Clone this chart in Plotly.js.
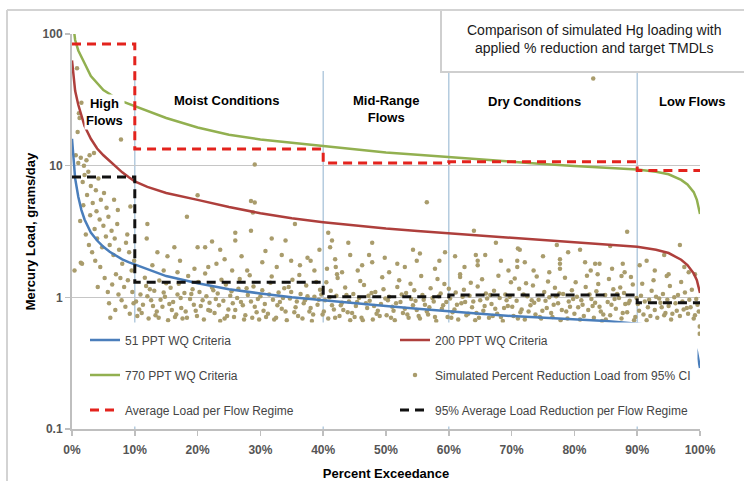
<!DOCTYPE html>
<html><head><meta charset="utf-8">
<script src="https://cdn.plot.ly/plotly-3.0.1.min.js"></script>
<style>html,body{margin:0;padding:0;background:#fff}#chart{width:744px;height:481px}</style>
</head><body><div id="chart"></div>
<script>
// ---------- data ----------
const curvePct = [0, 0.5, 1, 1.5, 2, 3, 4, 5, 6, 7, 8, 9, 10, 12, 15, 20, 25, 30, 35, 40, 45, 50, 55, 60, 65, 70, 75, 80, 85, 90, 93, 95, 97, 98, 99, 99.5, 100];
const load51 = [16, 8, 5.8, 4.6, 3.9, 3.1, 2.7, 2.42, 2.22, 2.06, 1.94, 1.85, 1.78, 1.63, 1.45, 1.28, 1.15, 1.07, 1.0, 0.95, 0.9, 0.86, 0.82, 0.78, 0.75, 0.72, 0.7, 0.68, 0.66, 0.63, 0.61, 0.58, 0.53, 0.5, 0.45, 0.39, 0.29];
const load200 = [63, 37, 29, 23.5, 20, 16, 13.5, 12, 10.8, 9.8, 8.9, 8.2, 7.6, 6.9, 6.2, 5.5, 4.85, 4.35, 3.98, 3.72, 3.5, 3.33, 3.19, 3.07, 2.95, 2.83, 2.72, 2.62, 2.52, 2.42, 2.3, 2.17, 1.93, 1.76, 1.52, 1.35, 1.08];
const load770 = [140, 90, 75, 66, 60, 48, 42, 37.5, 35, 32.5, 30.8, 29.5, 28.5, 26, 23, 19.5, 17.2, 15.8, 14.9, 14.1, 13.3, 12.6, 12.1, 11.6, 11.1, 10.7, 10.3, 9.95, 9.65, 9.35, 9.0, 8.6, 7.8, 7.2, 6.3, 5.5, 4.3];

const regimePct = [0, 10, 10, 40, 40, 60, 60, 90, 90, 100];
const avgLoad = [84, 84, 13.4, 13.4, 10.5, 10.5, 10.7, 10.7, 9.2, 9.2];
const avgReducedLoad = [8.2, 8.2, 1.3, 1.3, 1.01, 1.01, 1.04, 1.04, 0.91, 0.91];
const regimeBounds = [10, 40, 60, 90];
const regimeNames = ['High<br>Flows', 'Moist Conditions', 'Mid-Range<br>Flows', 'Dry Conditions', 'Low Flows'];

// simulated percent-reduction loads [percent exceedance, load]
const simHigh = [[0.8,55],[1.2,23],[1.5,30],[0.9,18],[1.1,25],[7.8,15.8],[0.6,12],[1.0,10.5],[1.4,11.5],[1.9,10],[2.3,11],[2.8,12],[3.5,12.5],[2.0,8.5],[2.6,9],[1.7,7.5],[3.0,7],[3.8,6.5],[4.2,8],[4.6,5.5],[5.1,6.2],[5.5,4.8],[2.4,6],[3.3,5.2],[3.9,4.5],[4.4,3.9],[5.0,3.5],[5.8,4.1],[6.3,3.2],[6.8,2.8],[7.2,3.6],[2.9,4.2],[1.3,3.8],[1.8,5.0],[2.2,3.0],[3.6,3.3],[4.0,2.8],[4.8,2.4],[5.4,2.9],[6.0,2.5],[6.6,2.1],[7.5,2.3],[8.0,1.8],[8.6,2.6],[9.1,2.2],[9.5,1.6],[1.4,1.83],[1.6,1.8],[7.0,1.5],[7.7,1.4],[8.3,1.2],[8.9,1.35],[9.6,1.1],[6.4,1.25],[5.7,1.1],[5.2,1.4],[4.5,1.7],[3.7,1.9],[7.9,0.95],[8.5,0.85],[9.2,0.75],[9.8,0.9],[6.9,0.8],[6.1,0.7],[7.4,1.05],[4.1,1.2],[5.9,0.9],[9.9,1.9],[8.8,3.0],[7.3,4.6],[6.7,5.5],[9.3,4.9],[2.7,2.5],[3.2,2.2],[0.4,1.6]];
const simBandA = [[10.4,0.72],[10.9,1.05],[11.3,0.88],[11.8,1.22],[12.2,0.69],[12.6,0.95],[13.1,1.12],[13.5,0.78],[13.9,1.34],[14.4,0.85],[14.8,1.01],[15.3,0.67],[15.7,1.18],[16.1,0.92],[16.6,0.74],[17.0,1.27],[17.4,0.83],[17.9,1.08],[18.3,0.70],[18.8,0.97],[19.2,1.15],[19.7,0.79],
[20.1,1.31],[20.5,0.86],[21.0,0.68],[21.4,1.02],[21.9,0.91],[22.3,1.19],[22.7,0.76],[23.2,1.07],[23.6,0.66],[24.1,0.94],[24.5,1.25],[24.9,0.81],[25.4,1.11],[25.8,0.71],[26.3,0.99],[26.7,1.38],[27.2,0.87],[27.6,0.73],[28.0,1.04],[28.5,0.93],[28.9,1.21],[29.4,0.77],[29.8,0.68],
[30.3,1.13],[30.7,0.89],[31.2,0.75],[31.6,1.29],[32.0,0.96],[32.5,0.70],[32.9,1.09],[33.4,0.82],[33.8,1.17],[34.2,0.67],[34.7,0.98],[35.1,1.36],[35.6,0.84],[36.0,0.72],[36.4,1.06],[36.9,0.90],[37.3,1.23],[37.8,0.78],[38.2,0.66],[38.6,1.01],[39.1,0.88],[39.5,1.14],[39.9,0.74],
[40.3,0.95],[40.8,0.69],[41.2,1.12],[41.7,0.81],[42.1,1.03],[42.6,0.72],[43.0,0.91],[43.5,1.19],[43.9,0.77],[44.3,0.67],[44.8,1.06],[45.2,0.86],[45.7,0.99],[46.1,0.70],[46.5,1.24],[47.0,0.83],[47.4,0.94],[47.9,0.68],[48.3,1.10],[48.7,0.79],[49.2,0.89],[49.6,1.15],
[50.1,0.73],[50.5,1.01],[51.0,0.85],[51.4,0.67],[51.8,1.20],[52.3,0.92],[52.7,0.76],[53.2,1.08],[53.6,0.70],[54.0,0.97],[54.5,1.13],[54.9,0.80],[55.4,0.69],[55.8,1.04],[56.2,0.88],[56.7,0.74],[57.1,1.17],[57.6,0.93],[58.0,0.66],[58.4,1.02],[58.9,0.82],[59.3,1.26],[59.8,0.71],
[60.2,0.98],[60.6,0.77],[61.1,1.09],[61.5,0.68],[62.0,0.90],[62.4,1.14],[62.8,0.73],[63.3,1.03],[63.7,0.84],[64.2,0.67],[64.6,1.21],[65.0,0.95],[65.5,0.79],[65.9,1.07],[66.4,0.70],[66.8,0.89],[67.2,1.12],[67.7,0.75],[68.1,0.99],[68.6,0.66],[69.0,1.05],[69.4,0.86],[69.9,1.30],
[70.3,0.72],[70.8,0.94],[71.2,1.16],[71.6,0.81],[72.1,0.68],[72.5,1.02],[73.0,0.87],[73.4,1.23],[73.8,0.74],[74.3,0.96],[74.7,0.69],[75.2,1.10],[75.6,0.83],[76.0,1.00],[76.5,0.71],[76.9,1.18],[77.4,0.90],[77.8,0.67],[78.2,1.06],[78.7,0.78],[79.1,0.93],[79.6,1.13],
[80.0,0.75],[80.4,1.01],[80.9,0.68],[81.3,0.88],[81.8,1.20],[82.2,0.80],[82.7,0.97],[83.1,0.70],[83.5,1.11],[84.0,0.85],[84.4,0.66],[84.9,1.04],[85.3,0.92],[85.7,0.73],[86.2,1.15],[86.6,0.82],[87.1,0.99],[87.5,0.69],[87.9,1.08],[88.4,0.77],[88.8,0.94],[89.3,1.25],[89.7,0.71],
[90.1,0.89],[90.6,1.03],[91.0,0.74],[91.5,0.67],[91.9,0.96],[92.3,1.12],[92.8,0.80],[93.2,0.70],[93.7,0.91],[94.1,1.06],[94.5,0.76],[95.0,0.86],[95.4,0.68],[95.9,1.00],[96.3,0.79],[96.8,0.72],[97.2,0.93],[97.6,1.09],[98.1,0.75],[98.5,0.84],[99.0,0.69],[99.4,0.97],[99.8,0.78]];
const simBandB = [[10.7,0.81],[11.6,1.41],[12.4,1.15],[13.3,0.73],[14.1,0.96],[15.0,1.28],[15.9,0.80],[16.8,1.05],[17.6,0.69],[18.5,1.45],[19.4,0.88],[20.3,1.10],[21.2,1.52],[22.0,0.79],[22.9,0.97],[23.8,1.36],[24.7,0.72],[25.6,0.90],[26.5,1.16],[27.4,0.68],[28.3,1.47],[29.1,0.85],[30.0,1.02],[30.9,0.71],[31.8,1.44],[32.7,0.87],[33.6,0.99],[34.5,1.20],[35.4,0.77],[36.2,1.48],[37.1,0.95],[38.0,0.83],[38.9,1.31],[39.7,1.05],
[40.5,1.30],[41.4,0.87],[42.3,1.40],[43.2,0.80],[44.1,0.93],[45.0,0.71],[45.9,1.33],[46.8,0.90],[47.7,1.08],[48.5,0.75],[49.4,1.42],[50.3,0.95],[51.2,0.79],[52.1,1.35],[53.0,0.82],[53.9,1.27],[54.7,0.94],[55.6,1.45],[56.5,0.78],[57.4,0.99],[58.2,1.38],[59.1,0.87],[60.0,1.16],[60.9,0.81],[61.8,1.43],[62.6,0.92],[63.5,1.29],[64.4,0.76],[65.3,1.37],[66.1,0.98],[67.0,0.72],[67.9,1.46],[68.8,0.83],[69.7,1.01],[70.5,1.39],[71.4,0.77],[72.3,1.28],[73.2,0.95],[74.0,1.44],[74.9,0.79],[75.8,1.32],[76.7,0.88],[77.6,1.07],[78.5,1.41],[79.3,0.85],[80.2,1.30],[81.1,0.95],[82.0,1.46],[82.9,0.86],[83.8,1.26],[84.6,0.74],[85.5,1.38],[86.4,0.97],[87.3,1.19],[88.1,0.89],[89.0,1.43],[89.9,0.99],[90.8,1.27],[91.7,0.84],[92.6,1.35],[93.5,0.98],[94.3,0.73],[95.2,1.22],[96.1,0.90],[97.0,1.31],[97.9,0.83],[98.7,1.14],[99.6,0.88]];
const simBandC = [[10.2,0.93],[11.1,0.76],[12.0,1.02],[12.9,0.86],[13.8,0.70],[14.6,1.09],[15.5,0.89],[16.4,0.71],[17.3,0.99],[18.1,0.78],[19.0,1.06],[19.9,0.72],[20.8,0.95],[21.7,0.80],[22.5,1.13],[23.4,0.87],[24.3,0.69],[25.2,1.03],[26.0,0.80],[26.9,0.92],[27.8,1.17],[28.7,0.70],[29.6,0.97],[30.5,0.79],[31.4,1.05],[32.2,0.68],[33.1,0.92],[34.0,0.78],[34.9,1.10],[35.8,0.93],[36.7,0.69],[37.5,1.02],[38.4,0.74],[39.3,0.96],
[40.1,0.78],[41.0,1.00],[41.9,0.70],[42.8,0.87],[43.7,1.04],[44.6,0.76],[45.4,0.92],[46.3,0.67],[47.2,1.03],[48.1,0.86],[49.0,0.72],[49.9,0.98],[50.8,0.70],[51.6,0.90],[52.5,1.05],[53.4,0.74],[54.3,0.87],[55.2,0.72],[56.0,0.96],[56.9,0.84],[57.8,0.71],[58.7,1.07],[59.6,0.92],
[60.4,0.70],[61.3,0.88],[62.2,1.01],[63.1,0.75],[63.9,0.93],[64.8,0.70],[65.7,0.86],[66.6,1.04],[67.4,0.82],[68.3,0.71],[69.2,0.95],[70.1,0.85],[71.0,0.69],[71.9,1.05],[72.7,0.78],[73.6,0.91],[74.5,0.71],[75.4,0.94],[76.3,0.76],[77.1,1.02],[78.0,0.80],[78.9,0.69],[79.8,0.97],[80.6,0.84],[81.5,0.72],[82.4,1.05],[83.3,0.91],[84.2,0.78],[85.0,0.68],[85.9,0.88],[86.8,1.06],[87.7,0.76],[88.6,0.90],[89.5,0.67],[90.3,0.79],[91.2,0.93],[92.1,0.72],[93.0,1.01],[93.9,0.84],[94.8,0.96],[95.6,0.75],[96.5,1.04],[97.4,0.81],[98.3,0.96],[99.2,0.73]];
const simUpper = [[11.9,2.8],[12.8,1.75],[13.6,2.2],[14.6,1.6],[16.3,2.4],[17.2,1.9],[18.3,4.1],[19.5,1.65],[20.0,5.95],[20.0,2.4],[21.2,2.4],[22.3,2.65],[23.6,2.3],[23.0,1.8],[24.3,1.95],[25.5,1.6],[26.0,3.1],[26.0,2.7],[27.0,2.05],[28.5,5.4],[29.1,5.25],[28.8,4.4],[28.5,3.2],[29.1,10.2],[30.3,1.85],[31.8,2.8],[32.6,1.7],[33.4,2.1],[34.0,2.7],[35.5,3.6],[36.3,1.75],[37.5,2.0],[38.6,1.6],[39.4,2.3],[16.8,1.55],[21.7,1.7],[27.9,1.6],[30.8,2.25],[34.9,1.9],[38.0,1.9],[12.0,3.6],[15.2,2.05],
[40.8,3.1],[41.4,2.7],[41.1,2.4],[41.9,1.95],[42.0,1.7],[42.2,1.5],[44.0,2.6],[44.3,2.1],[47.3,2.1],[47.8,2.6],[49.8,2.0],[54.3,2.3],[55.4,2.15],[54.9,1.9],[59.4,2.2],[56.5,5.27],[47.8,1.85],[51.8,1.8],[40.6,1.65],[45.5,1.6],[50.5,1.55],[53.0,1.7],[57.8,1.65],[58.5,1.9],[43.0,1.55],[46.2,1.75],
[64.0,3.2],[67.5,2.6],[71.0,2.35],[71.3,2.3],[77.2,2.5],[79.0,2.2],[61.0,2.05],[64.3,2.1],[65.8,2.1],[75.0,2.05],[64.6,1.9],[64.6,1.75],[68.3,1.9],[70.9,1.9],[70.9,1.7],[72.1,1.85],[77.7,1.95],[77.7,1.8],[77.7,1.65],[61.8,1.5],[73.5,1.6],[76.0,1.55],[80.9,2.3],[85.7,2.45],[81.7,1.85],[83.3,1.8],[84.0,1.8],[87.7,1.8],[88.0,1.55],[87.5,1.45],[88.4,3.15],[83.7,1.5],[69.5,1.6],[62.5,1.7],[82.6,1.6],[86.0,1.65],
[90.4,1.75],[91.5,1.9],[95.0,1.5],[98.2,1.55],[94.7,1.45],[94.3,2.1],[96.8,2.5],[92.8,1.6],[97.5,1.7],[99.2,1.5],[83.0,46],[99.9,0.6],[99.9,0.53]];

const xTickVals = [0,10,20,30,40,50,60,70,80,90,100];
const xTickText = ['0%','10%','20%','30%','40%','50%','60%','70%','80%','90%','100%'];
const yTickVals = [0.1, 1, 10, 100];
const yTickText = ['0.1', '1', '10', '100'];

// ---------- build ----------
const simAll = simHigh.concat(simBandA, simBandB, simBandC, simUpper);
const simPct = simAll.map(p => p[0]);
const simLoad = simAll.map(p => p[1]);

const ARIAL = "'Liberation Sans',Arial,sans-serif";

const traces = [
  {x: simPct, y: simLoad, type: 'scatter', mode: 'markers', name: 'Simulated Percent Reduction Load from 95% CI',
   marker: {color: '#a99c6c', size: 4.5}, legend: 'legend4'},
  {x: curvePct, y: load51, type: 'scatter', mode: 'lines', name: '51 PPT WQ Criteria',
   line: {color: '#4a7ebb', width: 2.5}, legend: 'legend'},
  {x: curvePct, y: load200, type: 'scatter', mode: 'lines', name: '200 PPT WQ Criteria',
   line: {color: '#ae3f3c', width: 2.5}, legend: 'legend2'},
  {x: curvePct, y: load770, type: 'scatter', mode: 'lines', name: '770 PPT WQ Criteria',
   line: {color: '#92b050', width: 2.5}, legend: 'legend3'},
  {x: regimePct, y: avgLoad, type: 'scatter', mode: 'lines', name: 'Average Load per Flow Regime',
   line: {color: '#e3231d', width: 3, dash: '9px,6px'}, legend: 'legend5'},
  {x: regimePct, y: avgReducedLoad, type: 'scatter', mode: 'lines', name: '95% Average Load Reduction per Flow Regime',
   line: {color: '#111111', width: 3, dash: '9px,6px'}, legend: 'legend6'}
];

// pixel helpers for paper coordinates
const L = 72, R = 44, T = 34, B = 52, W = 744, H = 481;
const PW = W - L - R, PH = H - T - B;
const px = v => (v - L) / PW;
const py = v => (H - B - v) / PH;

function legendAt(left, mid) {
  return {orientation: 'v', xanchor: 'left', yanchor: 'middle', x: px(left), y: py(mid),
    bgcolor: 'rgba(0,0,0,0)', borderwidth: 0, itemwidth: 30,
    font: {family: ARIAL, size: 12, color: '#454545'}};
}

const labelPct = [5.25, 24.6, 50, 73.6, 98.7];
const labelY = [112, 100, 108.5, 101, 101];
const annotations = regimeNames.map((t, i) => ({
  x: labelPct[i], xref: 'x', y: py(labelY[i]), yref: 'paper', text: t, showarrow: false,
  xanchor: 'center', yanchor: 'middle', bgcolor: '#ffffff', borderpad: 1,
  font: {family: ARIAL, size: 13, color: '#000000', weight: 'bold'}
}));
annotations.push({
  x: px(593.5), xref: 'paper', y: py(39.5), yref: 'paper', showarrow: false,
  text: 'Comparison of simulated Hg loading with<br>applied % reduction and target TMDLs',
  xanchor: 'center', yanchor: 'middle', font: {family: ARIAL, size: 14, color: '#1a1a1a'}
});

const shapes = regimeBounds.map(b => ({
  type: 'line', xref: 'x', x0: b, x1: b, yref: 'paper', y0: 0, y1: py(71), layer: 'below',
  line: {color: '#a9c3da', width: 1.3}
}));
shapes.push({type: 'rect', xref: 'paper', yref: 'paper', x0: px(73.5), x1: px(697.5), y0: py(426.5), y1: py(322.5),
  fillcolor: '#ffffff', line: {width: 0}, layer: 'above'});
shapes.push({type: 'rect', xref: 'paper', yref: 'paper', x0: px(441), x1: px(760), y0: py(72), y1: py(10),
  fillcolor: '#ffffff', line: {color: '#cfcfcf', width: 2}, layer: 'above'});
shapes.push({type: 'line', xref: 'paper', yref: 'paper', x0: px(7), x1: px(760), y0: py(10), y1: py(10),
  line: {color: '#d3d3d3', width: 2}, layer: 'above'});
shapes.push({type: 'line', xref: 'paper', yref: 'paper', x0: px(7), x1: px(7), y0: py(10), y1: py(490),
  line: {color: '#d3d3d3', width: 2}, layer: 'above'});

const tickFont = {family: ARIAL, size: 12, color: '#555555', weight: 'bold'};
const layout = {
  width: W, height: H, margin: {l: L, r: R, t: T, b: B},
  paper_bgcolor: '#ffffff', plot_bgcolor: '#ffffff', showlegend: true,
  xaxis: {range: [0, 100], tickvals: xTickVals, ticktext: xTickText, showgrid: false, zeroline: false,
    showline: true, linecolor: '#bfbfbf', linewidth: 2, ticks: 'outside', ticklen: 5, tickcolor: '#bfbfbf', tickwidth: 1.5,
    ticklabelstandoff: 4, tickfont: tickFont,
    title: {text: 'Percent Exceedance', font: {family: ARIAL, size: 13, color: '#000', weight: 'bold'}}},
  yaxis: {type: 'log', range: [-1, 2], tickvals: yTickVals, ticktext: yTickText, showgrid: true,
    gridcolor: '#c6c6c6', gridwidth: 1.5, zeroline: false,
    showline: true, linecolor: '#bfbfbf', linewidth: 2, ticks: 'outside', ticklen: 5, tickcolor: '#bfbfbf', tickwidth: 1.5,
    tickfont: tickFont,
    title: {text: 'Mercury Load, grams/day', font: {family: ARIAL, size: 13, color: '#000', weight: 'bold'}}},
  legend: legendAt(85, 340),
  legend2: legendAt(395, 340),
  legend3: legendAt(85, 375),
  legend4: legendAt(395, 375),
  legend5: legendAt(85, 410),
  legend6: legendAt(395, 410),
  annotations: annotations,
  shapes: shapes
};

Plotly.newPlot('chart', traces, layout, {displayModeBar: false, staticPlot: true});
</script>
</body></html>
